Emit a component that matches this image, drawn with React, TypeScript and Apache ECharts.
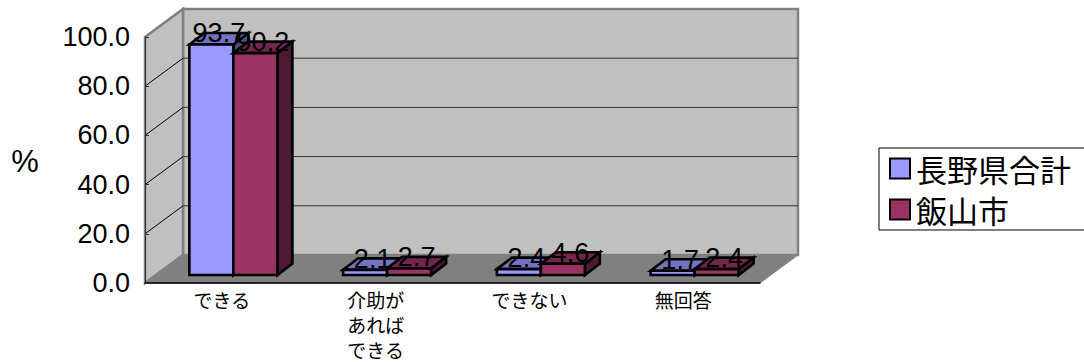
import React, { useEffect, useRef } from "react";
import * as echarts from "echarts";

const categories = ["できる", "介助が\nあれば\nできる", "できない", "無回答"];
const seriesNames = ["長野県合計", "飯山市"];
const naganoValues = [93.7, 2.1, 2.4, 1.7];
const iiyamaValues = [90.2, 2.7, 4.6, 2.4];
const gridTicks = [20, 40, 60, 80];
const blueFaces = { front: "#9999ff", top: "#7373bf", side: "#4d4d80" };
const redFaces = { front: "#993366", top: "#73264d", side: "#4d1a33" };

const WALL_DX = 38;
const WALL_DY = -28;
const BAR_OFFSET_X = 11.5;
const BAR_OFFSET_Y = -8;
const BAR_WIDTH = 44;
const BAR_DX = 15;
const BAR_DY = -11.5;
const BAR_STROKE = 2.6;

const poly = (points: number[][], fill: string, stroke: string, lineWidth: number) => ({
  type: "polygon",
  shape: { points },
  style: { fill, stroke, lineWidth, lineJoin: "miter" },
  silent: true,
});

const seg = (x1: number, y1: number, x2: number, y2: number, stroke: string, lineWidth = 1) => ({
  type: "line",
  shape: { x1, y1, x2, y2 },
  style: { stroke, lineWidth },
  silent: true,
});

const wallSeries = {
  name: "walls",
  type: "custom",
  z: 1,
  silent: true,
  clip: false,
  data: [[0, 0]],
  renderItem: (params: any, api: any) => {
    const c = params.coordSys;
    const l = c.x, r = c.x + c.width, t = c.y, b = c.y + c.height;
    const dx = WALL_DX, dy = WALL_DY;
    const children: any[] = [
      poly([[l + dx, t + dy], [r + dx, t + dy], [r + dx, b + dy], [l + dx, b + dy]], "#c0c0c0", "#808080", 2.5),
      poly([[l, t], [l + dx, t + dy], [l + dx, b + dy], [l, b]], "#c0c0c0", "#808080", 2.5),
      poly([[l, b], [l + dx, b + dy], [r + dx, b + dy], [r, b]], "#808080", "#808080", 1),
    ];
    gridTicks.forEach((v) => {
      const y = api.coord([0, v])[1];
      children.push(seg(l, y, l + dx, y + dy, "#000000"));
      children.push(seg(l + dx, y + dy, r + dx, y + dy, "#333333"));
    });
    return { type: "group", children };
  },
};

const barSeries = (name: string, values: number[], faces: typeof blueFaces, side: number, z: number) => ({
  name,
  type: "custom",
  z,
  silent: true,
  clip: false,
  itemStyle: { color: faces.front, borderColor: "#000", borderWidth: 2 },
  data: values.map((v, i) => [i, v]),
  renderItem: (_p: any, api: any) => {
    const [cx, yTop] = api.coord([api.value(0), api.value(1)]);
    const yZero = api.coord([api.value(0), 0])[1];
    const x0 = cx + BAR_OFFSET_X + (side < 0 ? -BAR_WIDTH : 0);
    const x1 = x0 + BAR_WIDTH;
    const top = yTop + BAR_OFFSET_Y;
    const bot = yZero + BAR_OFFSET_Y;
    return {
      type: "group",
      children: [
        poly([[x1, top], [x1 + BAR_DX, top + BAR_DY], [x1 + BAR_DX, bot + BAR_DY], [x1, bot]], faces.side, "#000", BAR_STROKE),
        poly([[x0, top], [x0 + BAR_DX, top + BAR_DY], [x1 + BAR_DX, top + BAR_DY], [x1, top]], faces.top, "#000", BAR_STROKE),
        poly([[x0, top], [x1, top], [x1, bot], [x0, bot]], faces.front, "#000", BAR_STROKE),
      ],
    };
  },
});

const labelSeries = (values: number[], side: number, z: number) => ({
  name: "labels" + side,
  type: "custom",
  z,
  silent: true,
  clip: false,
  data: values.map((v, i) => [i, v]),
  renderItem: (_p: any, api: any) => {
    const [cx, yTop] = api.coord([api.value(0), api.value(1)]);
    const x0 = cx + BAR_OFFSET_X + (side < 0 ? -BAR_WIDTH : 0);
    return {
      type: "text",
      x: x0 + BAR_WIDTH / 2 + BAR_DX / 2,
      y: yTop + BAR_OFFSET_Y - 11,
      silent: true,
      style: {
        text: api.value(1).toFixed(1),
        fill: "#000",
        font: '27px "Liberation Sans", Arial, sans-serif',
        align: "center",
        verticalAlign: "middle",
      },
    };
  },
});

export default function App() {
  const ref = useRef<HTMLDivElement>(null);
  useEffect(() => {
    document.body.style.margin = "0";
    document.body.style.background = "#fff";
    const chart = echarts.init(ref.current!, undefined, { renderer: "svg" });
    const labelFont = '"Noto Sans CJK JP"';
    chart.setOption({
      animation: false,
      backgroundColor: "#ffffff",
      grid: { left: 145, right: 324, top: 37, bottom: 78 },
      graphic: [
        {
          type: "text",
          x: 25,
          y: 161,
          style: {
            text: "%",
            fill: "#000",
            font: '31px "Liberation Sans", Arial, sans-serif',
            align: "center",
            verticalAlign: "middle",
          },
        },
      ],
      legend: {
        orient: "vertical",
        left: 879,
        top: 148,
        padding: [5, 40, 5, 10],
        itemGap: 10,
        itemWidth: 20,
        itemHeight: 20,
        borderColor: "#000",
        borderWidth: 1,
        backgroundColor: "#fff",
        selectedMode: false,
        textStyle: { fontFamily: labelFont, fontSize: 31, color: "#000", padding: [0, 0, 0, 1] },
        data: [
          { name: seriesNames[0], icon: "rect", itemStyle: { color: blueFaces.front, borderColor: "#000", borderWidth: 2 } },
          { name: seriesNames[1], icon: "rect", itemStyle: { color: redFaces.front, borderColor: "#000", borderWidth: 2 } },
        ],
      },
      xAxis: {
        type: "category",
        data: categories,
        z: 3,
        axisLine: { lineStyle: { color: "#000", width: 1.5 } },
        axisTick: { inside: true, length: 5, lineStyle: { color: "#333" } },
        splitLine: { show: false },
        axisLabel: {
          interval: 0,
          margin: 4,
          fontFamily: labelFont,
          fontSize: 19,
          lineHeight: 25,
          color: "#000",
        },
      },
      yAxis: {
        type: "value",
        min: 0,
        max: 100,
        interval: 20,
        z: 3,
        axisLine: { show: true, lineStyle: { color: "#333", width: 1 } },
        axisTick: { show: true, inside: true, length: 4, lineStyle: { color: "#333" } },
        splitLine: { show: false },
        axisLabel: {
          margin: 15,
          formatter: (v: number) => v.toFixed(1),
          fontFamily: '"Liberation Sans", Arial, sans-serif',
          fontSize: 27,
          color: "#000",
        },
      },
      series: [
        wallSeries,
        barSeries(seriesNames[0], naganoValues, blueFaces, -1, 4),
        barSeries(seriesNames[1], iiyamaValues, redFaces, 1, 5),
        labelSeries(naganoValues, -1, 6),
        labelSeries(iiyamaValues, 1, 6),
      ],
    } as any);
    return () => chart.dispose();
  }, []);
  return <div ref={ref} style={{ position: "absolute", left: 0, top: 0, width: 1084, height: 362 }} />;
}
